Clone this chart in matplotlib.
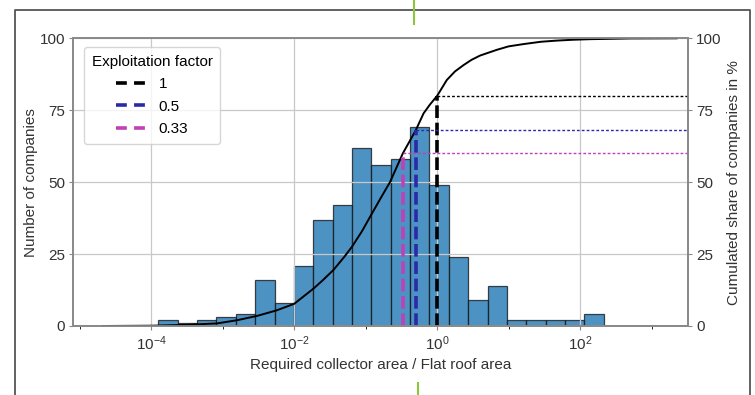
import numpy as np
import matplotlib
matplotlib.use("Agg")
import matplotlib.pyplot as plt
from matplotlib.lines import Line2D

plt.rcParams['font.family'] = ['Liberation Sans', 'DejaVu Sans']

# histogram: log10 bin range and counts per bin
bin_log_min, bin_log_max = -3.90, 2.33
counts = [2, 1, 2, 3, 4, 16, 8, 21, 37, 42, 62, 56, 58, 69,
          49, 24, 9, 14, 2, 2, 2, 2, 4]

# cumulated share curve (log10 of ratio, percent)
cum_log = [-4.68, -4.0, -3.5, -3.08, -2.8, -2.52, -2.25, -2.0, -1.73, -1.6,
           -1.45, -1.3, -1.19, -1.05, -0.91, -0.8, -0.66, -0.57, -0.48, -0.39,
           -0.30, -0.19, -0.1, 0.0, 0.135, 0.25, 0.37, 0.48, 0.60, 0.835,
           1.0, 1.21, 1.45, 1.67, 1.9, 2.14, 2.7, 3.35]
cum_pct = [0.0, 0.1, 0.4, 0.9, 2.0, 3.5, 5.4, 7.7, 13.0, 15.9,
           19.5, 24.0, 27.6, 33.0, 39.2, 44.0, 50.0, 55.0, 60.0, 64.0,
           68.0, 73.9, 77.0, 80.0, 85.5, 88.5, 90.7, 92.5, 94.0, 96.0,
           97.2, 98.0, 98.8, 99.2, 99.5, 99.7, 99.95, 100.0]

# exploitation factors and resulting cumulated share
factors = [1, 0.5, 0.33]
factor_labels = ['1', '0.5', '0.33']
factor_share = [80, 68, 60]
factor_colors = ['black', '#2a2aa8', '#c040b8']

edges = np.logspace(bin_log_min, bin_log_max, len(counts) + 1)
centers = np.sqrt(edges[:-1] * edges[1:])
xmin, xmax = 10 ** -5.09, 10 ** 3.51

fig = plt.figure(figsize=(7.55, 3.95), dpi=100)
ax = fig.add_axes([0.0971, 0.1747, 0.8142, 0.7283])
ax2 = ax.twinx()

ax.hist(centers, bins=edges, weights=counts, color='#1f77b4', alpha=0.8,
        edgecolor='#1a1a1a', linewidth=0.9)
ax.set_xscale('log')
ax.set_xlim(xmin, xmax)
ax.set_xticks([1e-4, 1e-2, 1e0, 1e2])
ax.set_xticks([1e-5, 1e-3, 1e-1, 1e1, 1e3], minor=True)
ax.set_xticklabels([], minor=True)
ax.set_ylim(0, 100)
ax.set_yticks([0, 25, 50, 75, 100])
ax.grid(True, color='#c8c8c8', linewidth=0.9)
ax.set_xlabel('Required collector area / Flat roof area', fontsize=11, color='#333333')
ax.set_ylabel('Number of companies', fontsize=11, color='#333333', labelpad=1)

ax2.plot(10 ** np.array(cum_log), cum_pct, color='black', linewidth=1.4)
for f, s, c in zip(factors, factor_share, factor_colors):
    ax2.plot([f, f], [0, s], color=c, linestyle='--', linewidth=2.6, dashes=(3.5, 1.3))
    ax2.plot([f, xmax], [s, s], color=c, linewidth=1.0, dashes=(2, 1.5))
ax2.set_ylim(0, 100)
ax2.set_yticks([0, 25, 50, 75, 100])
ax2.set_xlim(xmin, xmax)
ax2.set_ylabel('Cumulated share of companies in %', fontsize=11, color='#333333')

for a in (ax, ax2):
    a.tick_params(labelsize=11, labelcolor='#333333', color='#888888', length=3, pad=3)
    a.tick_params(which='minor', length=2)
    for sp in a.spines.values():
        sp.set_color('#8a8a8a')
        sp.set_linewidth(1.3)

handles = [Line2D([], [], color=c, linestyle='--', linewidth=2.6, dashes=(3, 2))
           for c in factor_colors]
leg = ax.legend(handles, factor_labels, title='Exploitation factor', loc='upper left',
                fontsize=11, title_fontsize=11, frameon=True,
                bbox_to_anchor=(0.005, 0.995), labelspacing=0.55, borderpad=0.5)
leg.get_frame().set_edgecolor('#cccccc')

# page frame and marks around the figure
fig.add_artist(Line2D([15 / 755, 15 / 755, 750 / 755, 750 / 755],
                      [0, 1 - 10 / 395, 1 - 10 / 395, 0],
                      color='#555555', linewidth=1.3))
fig.add_artist(Line2D([414 / 755, 414 / 755], [1, 1 - 24 / 395], color='#8cc63f', linewidth=1.5))
fig.add_artist(Line2D([418 / 755, 418 / 755], [12 / 395, 0], color='#8cc63f', linewidth=1.5))

fig.savefig('out.png', dpi=100)
